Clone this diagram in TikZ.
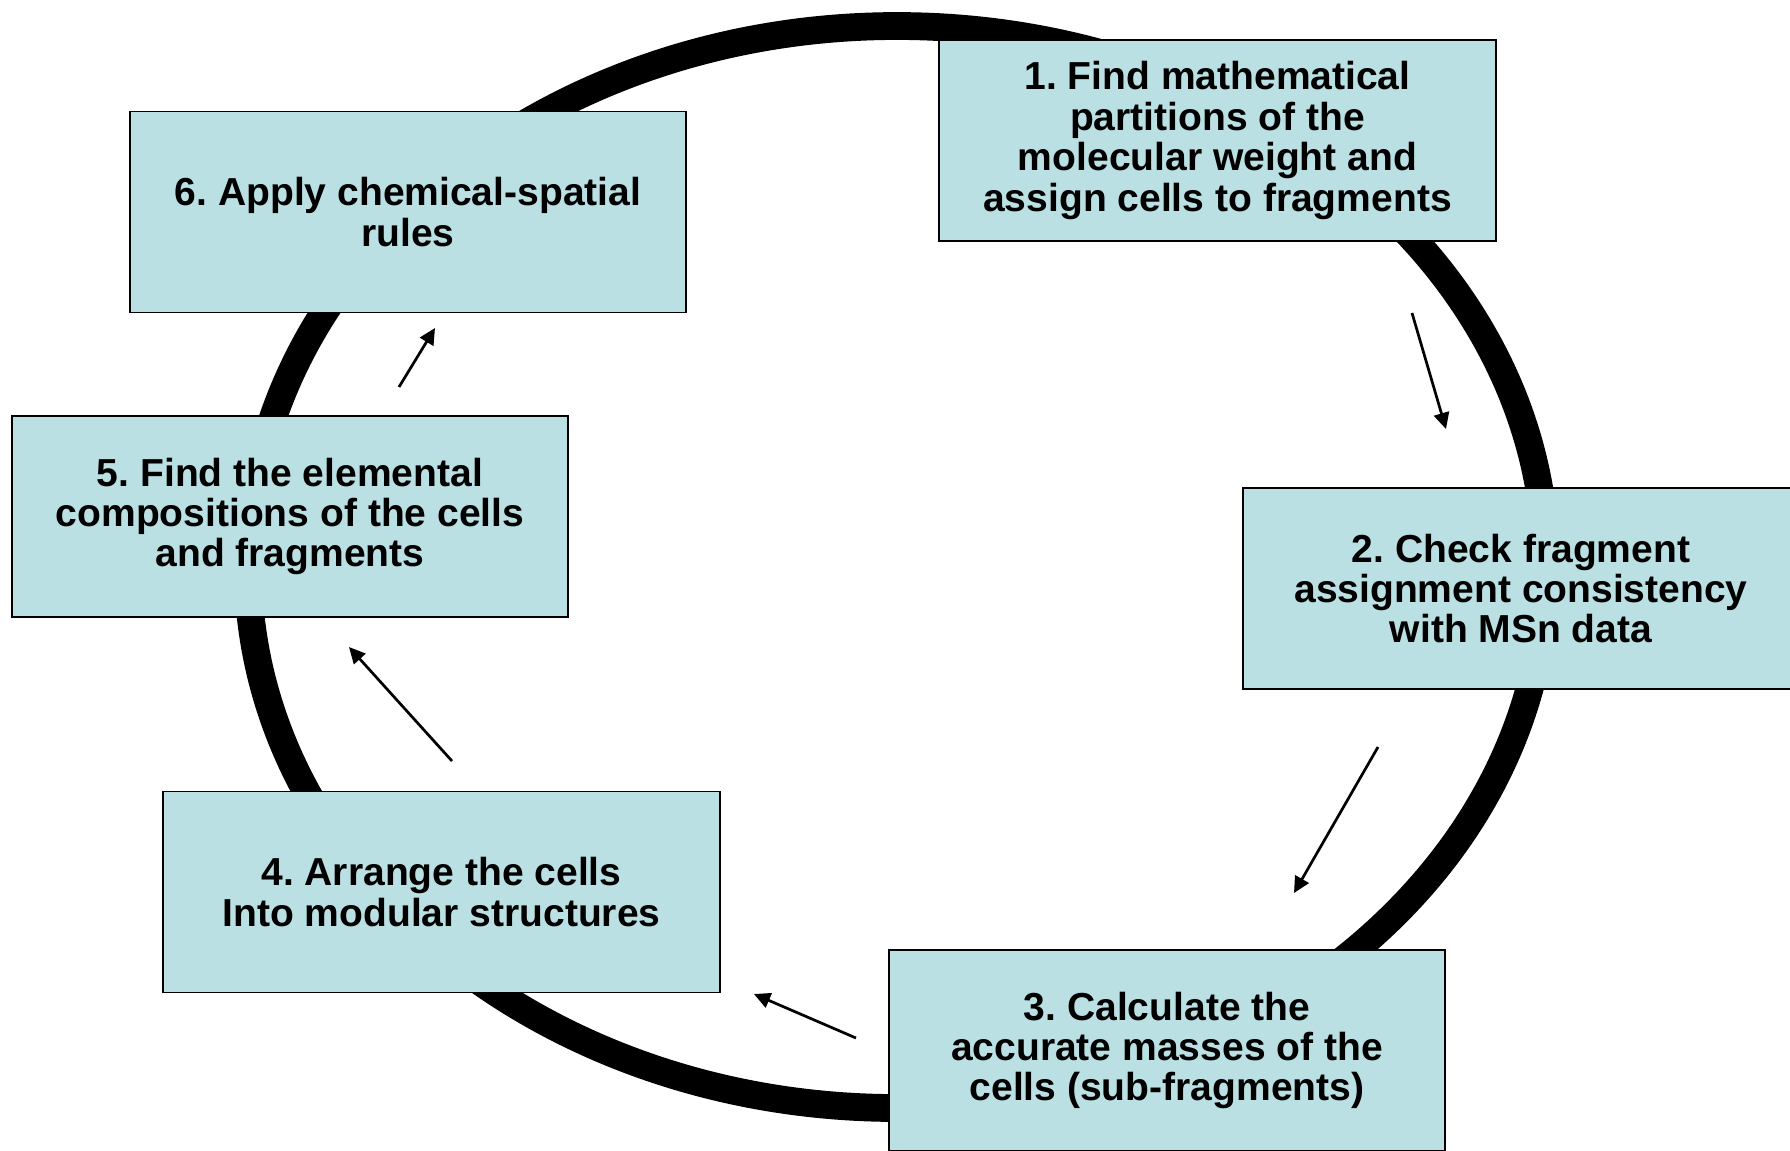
\documentclass[tikz,border=0pt]{standalone}
\usepackage{fontspec}
\setmainfont{Liberation Sans}
\usepackage{xcolor}
\usepackage{tikz}
\usetikzlibrary{arrows.meta, positioning}
\definecolor{boxfill}{RGB}{186,224,227}
\tikzset{stepbox/.style={draw=black, line width=0.5pt, fill=boxfill,
           minimum width=5.56cm, minimum height=2.01cm, inner sep=0pt,
           align=center, font=\fontsize{11.1}{11.5}\selectfont\bfseries\frenchspacing},
         flow/.style={line width=0.77pt, -{Triangle[length=4.6pt,width=4.4pt]}}
        }

\begin{document}
\begin{tikzpicture}[x=0.01cm, y=-0.01cm]

\clip (0,0) rectangle (1790,1150);

%ring
\coordinate (mid) at (897,567);
\draw[line width=7.9pt] (mid) ellipse [x radius=649, y radius=541];

%steps
\node[stepbox] (b1) at (1217.5,140.5) {1. Find mathematical\\partitions of the\\molecular weight and\\assign cells to fragments};
\node[stepbox] (b2) at (1521,588.5) {2. Check fragment\\assignment consistency\\with MSn data};
\node[stepbox] (b3) at (1167,1050.5) {3. Calculate the\\accurate masses of the\\cells (sub-fragments)};
\node[stepbox] (b4) at (441.5,892) {4. Arrange the cells\\Into modular structures};
\node[stepbox] (b5) at (290,516.5) {5. Find the elemental\\compositions of the cells\\and fragments};
\node[stepbox] (b6) at (408,212) {6. Apply chemical-spatial\\rules};

\coordinate (a1) at (1412,313);
\coordinate (a1p) at (1446,429);
\coordinate (a2) at (1378,747);
\coordinate (a2p) at (1294,893);
\coordinate (a3) at (856,1038);
\coordinate (a3p) at (754,994);
\coordinate (a4) at (452,761);
\coordinate (a4p) at (349,647);
\coordinate (a5) at (399,387);
\coordinate (a5p) at (435,328);

\draw[flow] (a1) -- (a1p);
\draw[flow] (a2) -- (a2p);
\draw[flow] (a3) -- (a3p);
\draw[flow] (a4) -- (a4p);
\draw[flow] (a5) -- (a5p);

\end{tikzpicture}
\end{document}
